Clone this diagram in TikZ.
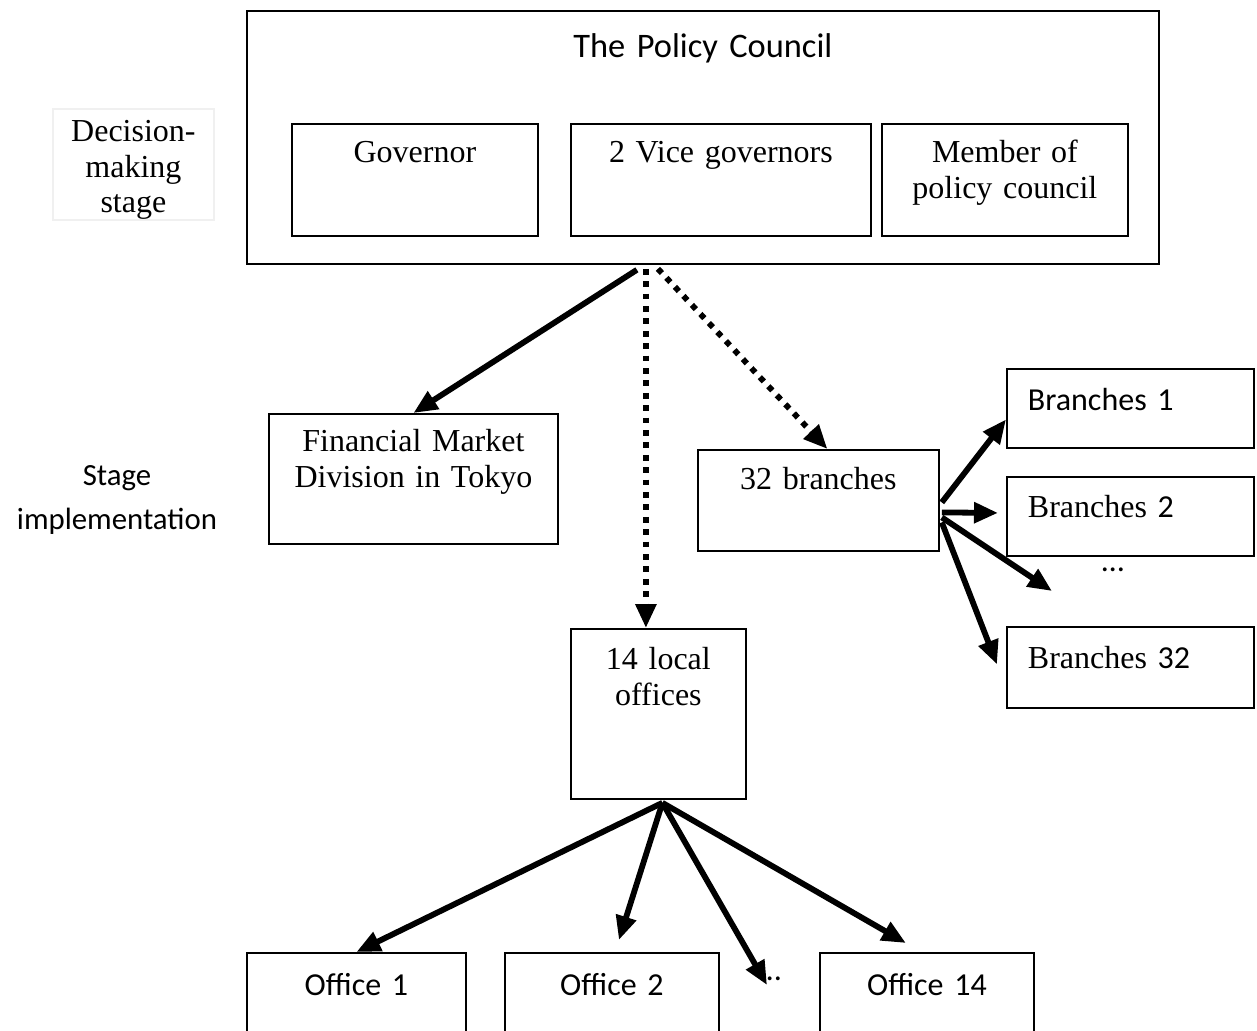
\documentclass[tikz,border=0pt]{standalone}
\usepackage{fontspec}
\setmainfont{Liberation Serif}
\newfontfamily\calibri{Carlito}
\usepackage{tikz}
\usetikzlibrary{calc,arrows.meta}

\begin{document}
\begin{tikzpicture}[
  x=0.5pt,y=-0.5pt,
  >={Triangle[length=12pt,width=10pt]},
  tms/.style={font=\fontsize{16}{18}\selectfont},
  cal/.style={font=\calibri\fontsize{16}{18}\selectfont},
  box/.style n args={3}{draw,line width=0.9pt,anchor=north west,inner sep=0pt,align=center,text width=#1,text height=#2,text depth=#3},
  brbox/.style 2 args={box={102.5pt}{#1}{#2},inner xsep=10.5pt,align=left,cal},
  link/.style={->,line width=2.9pt},
  dotlink/.style={->,line width=2.9pt,dash pattern=on 2.9pt off 3.3pt}
]
\useasboundingbox (0,0) rectangle (1257,1030);
\clip (0,0) rectangle (1257,1030);
\node[box={456pt}{23.5pt}{103pt},font=\calibri\fontsize{17.2}{19}\selectfont] (council) at (246,10) {The Policy Council};
\node[box={123pt}{19.5pt}{36.5pt},tms] (gov) at (291,123) {Governor};
\node[box={150pt}{19.5pt}{36.5pt},tms] (vice) at (570,123) {2 Vice governors};
\node[box={123pt}{19.5pt}{36.5pt},tms] (member) at (881,123) {Member of\\ policy council};
\node[box={80.5pt}{16.5pt}{39pt},draw=black!6,font=\fontsize{16}{17.75}\selectfont] (decide) at (52,108) {Decision-\\ making\\ stage};
\node[align=center,font=\calibri\fontsize{15.4}{22}\selectfont] (stage) at (117,500) {Stage\\ implementation};
\node[box={144.5pt}{19pt}{46pt},tms] (fin) at (268,413) {Financial Market\\ Division in Tokyo};
\node[box={120.5pt}{20pt}{30.5pt},tms] (br32) at (697,449) {32 branches};
\node[box={87.5pt}{20.5pt}{64.5pt},tms] (local) at (570,628) {14 local\\ offices};
\node[brbox={21pt}{18.5pt}] (b1) at (1006,368) {Branches 1};
\node[brbox={20.5pt}{19pt}] (b2) at (1006,476) {{\rmfamily Branches} 2};
\node[brbox={21pt}{19.5pt}] (b32) at (1006,626) {{\rmfamily Branches} 32};
\node[cal] (bdots) at (1113,570) {…};
\node[box={109.5pt}{21.5pt}{40pt},cal] (off1) at (246,952) {Office 1};
\node[box={107pt}{21.5pt}{40pt},cal] (off2) at (504,952) {Office 2};
\node[box={107pt}{21.5pt}{40pt},cal] (off14) at (819,952) {Office 14};
\node[cal,anchor=base] (odots) at (770,980) {…};
\coordinate (vs) at ($(council.south)+(-57,4)$);
\coordinate (bgap) at (1052,591);
\coordinate (ogap) at (767,985);
\draw[link] ($(council.south)+(-66,5)$) -- (fin.north);
\draw[dotlink] (vs) -- (vs |- local.north);
\draw[dotlink] ($(council.south)+(-45,4)$) -- ($(br32.north)+(9,0)$);
\draw[link] ($(br32.east)+(2,2)$) -- ($(b1.west)+(0,11)$);
\draw[link] ($(br32.east)+(2,12)$) -- ($(b2.west)+(-8,-3.5)$);
\draw[link] ($(br32.east)+(2,17)$) -- (bgap);
\draw[link] ($(br32.east)+(2,22)$) -- ($(b32.west)+(-9,-3)$);
\draw[link] ($(local.south)+(4,3)$) -- (off1.north);
\draw[link] ($(local.south)+(4,3)$) -- ($(off2.north)+(7,-12)$);
\draw[link] ($(local.south)+(4,3)$) -- (ogap);
\draw[link] ($(local.south)+(4,3)$) -- ($(off14.north)+(-21,-9)$);
\end{tikzpicture}
\end{document}
